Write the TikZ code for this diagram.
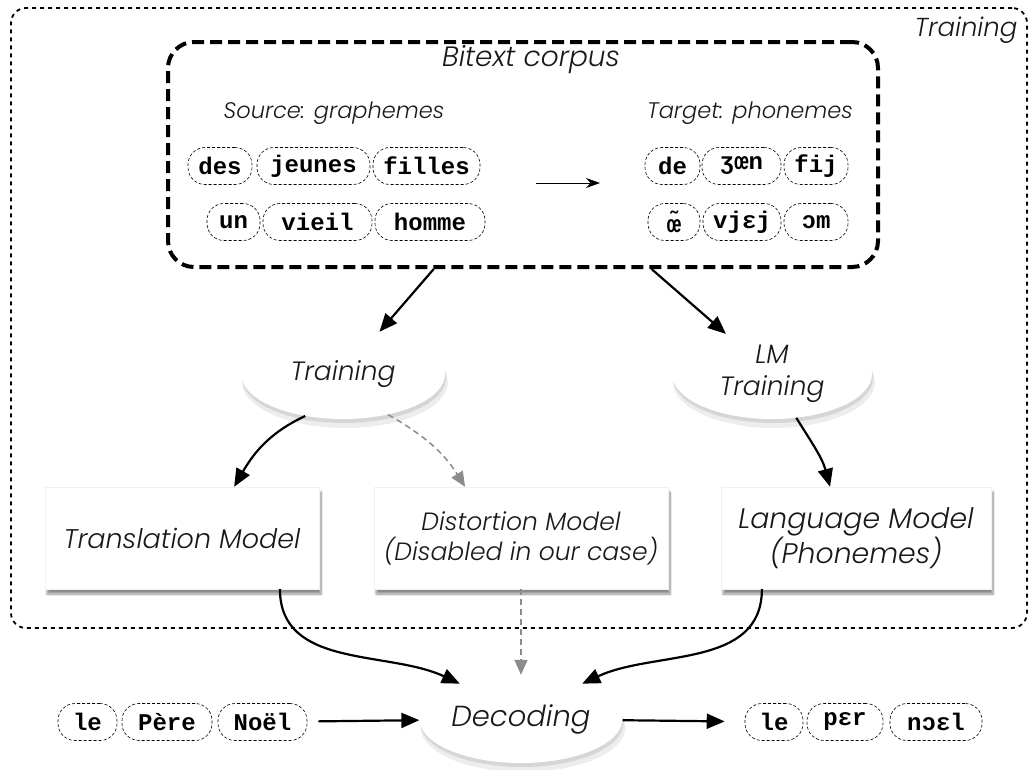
\documentclass[tikz,border=0pt]{standalone}
\usepackage{fontspec}
\setmainfont{Poppins}
\newfontfamily\lblfont{Poppins Light Italic}
\newfontfamily\monof{Liberation Mono}
\usetikzlibrary{arrows.meta,shapes.geometric,shadows,shadows.blur,calc}
\newcommand{\lblsize}[1]{\fontsize{#1}{30}\selectfont}
\begin{document}
\begin{tikzpicture}[x=1pt,y=1pt,
  lbl/.style={font=\lblfont\lblsize{27}, text=black!90},
  pill/.style={draw, dash pattern=on 3pt off 2pt, line width=0.6pt, rounded corners=17pt,
    minimum height=37pt, inner xsep=0pt, font=\monof\bfseries\fontsize{24}{24}\selectfont},
  shadowlyr/.style={ellipse, inner sep=0pt, draw=none},
  proc/.style={ellipse, fill=white, inner sep=0pt, lbl, align=center},
  model/.style={rectangle, fill=white, draw=black!6, minimum width=274pt, minimum height=102pt,
    lbl, align=center,
    blur shadow={shadow xshift=2pt, shadow yshift=-5pt, shadow blur steps=10, shadow opacity=45}},
  arr/.style={line width=2.2pt, -{Triangle[length=18pt,width=15pt]}},
  garr/.style={line width=1.5pt, draw=black!45, dash pattern=on 6pt off 4pt,
    -{Triangle[length=15pt,width=13pt,fill=black!45]}}
]
\path[use as bounding box] (0,0) rectangle (1031,-769);

% outer training frame
\node[draw, line width=1.8pt, dash pattern=on 4pt off 4pt, rounded corners=15pt,
  minimum width=1016pt, minimum height=620pt, inner sep=0pt] (outer) at (519,-318) {};
\node[lbl, font=\lblfont\lblsize{26}] (trlabel) at (966,-30) {Training};

% bitext corpus
\node[draw, line width=4pt, dash pattern=on 12pt off 6pt, rounded corners=26pt,
  minimum width=710pt, minimum height=225pt, inner sep=0pt] (bitext) at (523,-154.5) {};
\node[lbl, font=\lblfont\lblsize{28}] (bitextlabel) at (531,-60) {Bitext corpus};
\node[lbl, font=\lblfont\lblsize{22.5}] (srclabel) at (334,-113) {Source: graphemes};
\node[lbl, font=\lblfont\lblsize{22.5}] (tgtlabel) at (750,-113) {Target: phonemes};

% source words
\node[pill, minimum width=64pt] (w1) at (220,-166) {des};
\node[pill, minimum width=113pt] (w2) at (313.5,-166) {jeunes};
\node[pill, minimum width=107pt] (w3) at (426.5,-166) {filles};
\node[pill, minimum width=53pt] (w4) at (233.5,-222) {un};
\node[pill, minimum width=109pt] (w5) at (317.5,-222) {vieil};
\node[pill, minimum width=110pt] (w6) at (430,-222) {homme};
% target words
\node[pill, minimum width=55pt] (p1) at (672.5,-166) {de};
\node[pill, minimum width=79pt] (p2) at (741.5,-166) {ʒœn};
\node[pill, minimum width=64pt] (p3) at (816,-166) {fij};
\node[pill, minimum width=52pt] (p4) at (674,-222) {œ̃};
\node[pill, minimum width=78pt] (p5) at (742,-222) {vjɛj};
\node[pill, minimum width=64pt] (p6) at (816,-222) {ɔm};

\coordinate (ia) at (536,-183);
\coordinate (ib) at (600,-183);
\draw[line width=1pt, -{Stealth[length=14pt,width=10pt]}] (ia) -- (ib);

% shadows of the ellipses
\node[shadowlyr, fill=black!7, minimum width=206pt, minimum height=92pt] (trs1) at (345,-382) {};
\node[shadowlyr, fill=black!16, minimum width=204pt, minimum height=90pt] (trs2) at (344,-378) {};
\node[shadowlyr, fill=black!7, minimum width=202pt, minimum height=92pt] (lms1) at (774,-382) {};
\node[shadowlyr, fill=black!16, minimum width=200pt, minimum height=90pt] (lms2) at (773,-378) {};
\node[shadowlyr, fill=black!7, minimum width=205pt, minimum height=90pt] (decs1) at (523,-727) {};
\node[shadowlyr, fill=black!16, minimum width=203pt, minimum height=88pt] (decs2) at (522,-723) {};

% processes
\node[proc, minimum width=204pt, minimum height=90pt, font=\lblfont\lblsize{26.5}] (tr) at (343,-374) {Training};
\node[proc, minimum width=200pt, minimum height=90pt, font=\lblfont\fontsize{26.5}{32}\selectfont] (lmt) at (772,-374) {LM\\Training};

% models
\node[model] (trans) at (182,-538) {Translation Model};
\node[model, minimum width=294pt, font=\lblfont\lblsize{25}] (dist) at (521,-538) {Distortion Model\\(Disabled in our case)};
\node[model, minimum width=270pt, font=\lblfont\lblsize{28.3}] (lm) at (856,-538) {Language Model\\(Phonemes)};

% decoding
\node[proc, minimum width=203pt, minimum height=88pt, font=\lblfont\lblsize{29}] (dec) at (521,-719) {Decoding};

% input / output words
\node[pill, minimum width=59pt] (i1) at (87.5,-722) {le};
\node[pill, minimum width=90pt] (i2) at (167,-722) {Père};
\node[pill, minimum width=89pt] (i3) at (262.5,-722) {Noël};
\node[pill, minimum width=58pt] (o1) at (774,-722) {le};
\node[pill, minimum width=76pt] (o2) at (845,-722) {pɛr};
\node[pill, minimum width=92pt] (o3) at (936,-722) {nɔɛl};

% connectors
\draw[arr] ($(bitext.south west)!0.375!(bitext.south east)$) -- (tr);
\draw[arr] ($(bitext.south west)!0.68!(bitext.south east)$) -- (lmt);
\draw[arr] (tr.228) to[out=205,in=60] ($(trans.north west)!0.69!(trans.north east)$);
\draw[garr] (tr.318) to[out=-30,in=122] ($(dist.north west)!0.31!(dist.north east)$);
\draw[arr] (lmt.299) to[out=-58,in=105] ($(lm.north west)!0.404!(lm.north east)$);
\draw[arr] ($(trans.south west)!0.857!(trans.south east)$) to[out=-90,in=155] (dec.150);
\draw[garr] (dist.south) -- (dec.north);
\draw[arr] ($(lm.south west)!0.152!(lm.south east)$) to[out=-90,in=25] (dec.30);
\draw[arr, shorten <=11pt] (i3) -- (dec);
\draw[arr, shorten >=20pt] (dec) -- (o1);
\end{tikzpicture}
\end{document}
